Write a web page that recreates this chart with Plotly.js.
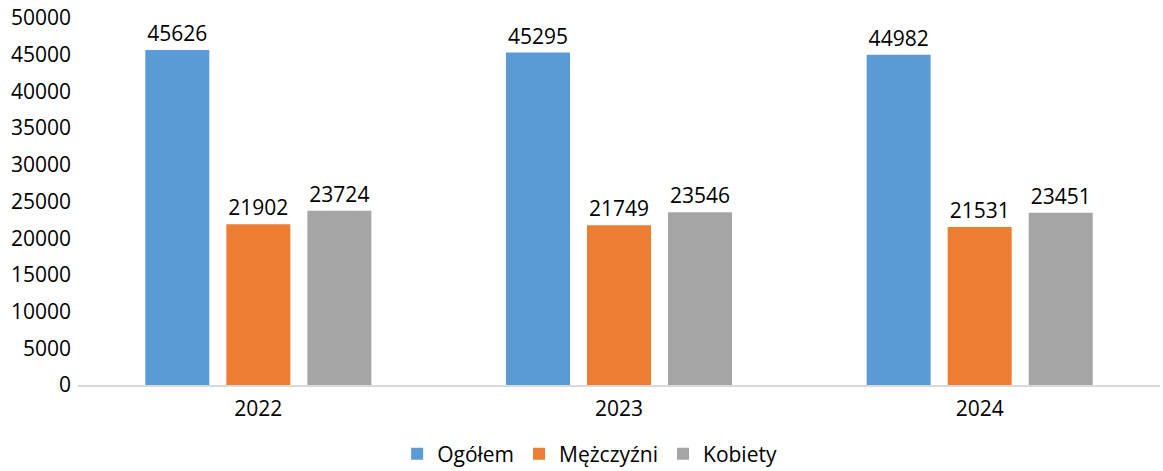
<!DOCTYPE html>
<html><head><meta charset="utf-8">
<script src="https://cdn.plot.ly/plotly-3.0.1.min.js"></script>
<style>body{margin:0;background:#fff}#c{width:1163px;height:471px}</style>
</head><body><div id="c"></div>
<script>
const years = ['2022', '2023', '2024'];
const ogolem = [45626, 45295, 44982];
const mezczyzni = [21902, 21749, 21531];
const kobiety = [23724, 23546, 23451];
const seriesNames = ['Ogółem', 'Mężczyźni', 'Kobiety'];
const colors = ['#5b9bd5', '#ed7d31', '#a5a5a5'];
const yTicks = [0, 5000, 10000, 15000, 20000, 25000, 30000, 35000, 40000, 45000, 50000];

const font = {family: '"Open Sans", sans-serif', size: 21, color: '#000000'};
const traces = [ogolem, mezczyzni, kobiety].map((vals, i) => ({
  type: 'bar', x: years, y: vals, name: seriesNames[i],
  marker: {color: colors[i]},
  text: vals.map(String), textposition: 'outside', cliponaxis: false,
  textfont: font, hoverinfo: 'x+y+name'
}));

Plotly.newPlot('c', traces, {
  width: 1163, height: 471,
  margin: {l: 78, r: 3, t: 18, b: 86},
  paper_bgcolor: '#fff', plot_bgcolor: '#fff',
  font: font,
  barmode: 'group', bargap: 0.326, bargroupgap: 0.21,
  xaxis: {type: 'category', showline: true, linecolor: '#d9d9d9', linewidth: 1.5,
          ticks: '', showgrid: false, zeroline: false, tickfont: font, ticklabelstandoff: 4,
          automargin: false},
  yaxis: {range: [0, 50000], tickvals: yTicks, ticktext: yTicks.map(String),
          showgrid: false, zeroline: false, showline: false, ticks: '', tickfont: font,
          ticklabelstandoff: 6, automargin: false},
  legend: {orientation: 'h', xref: 'container', yref: 'container', x: 0.507, xanchor: 'center',
           y: 0.036, yanchor: 'middle', font: font, itemwidth: 30, traceorder: 'normal'},
  showlegend: true
}, {displayModeBar: false, staticPlot: true});
</script></body></html>
